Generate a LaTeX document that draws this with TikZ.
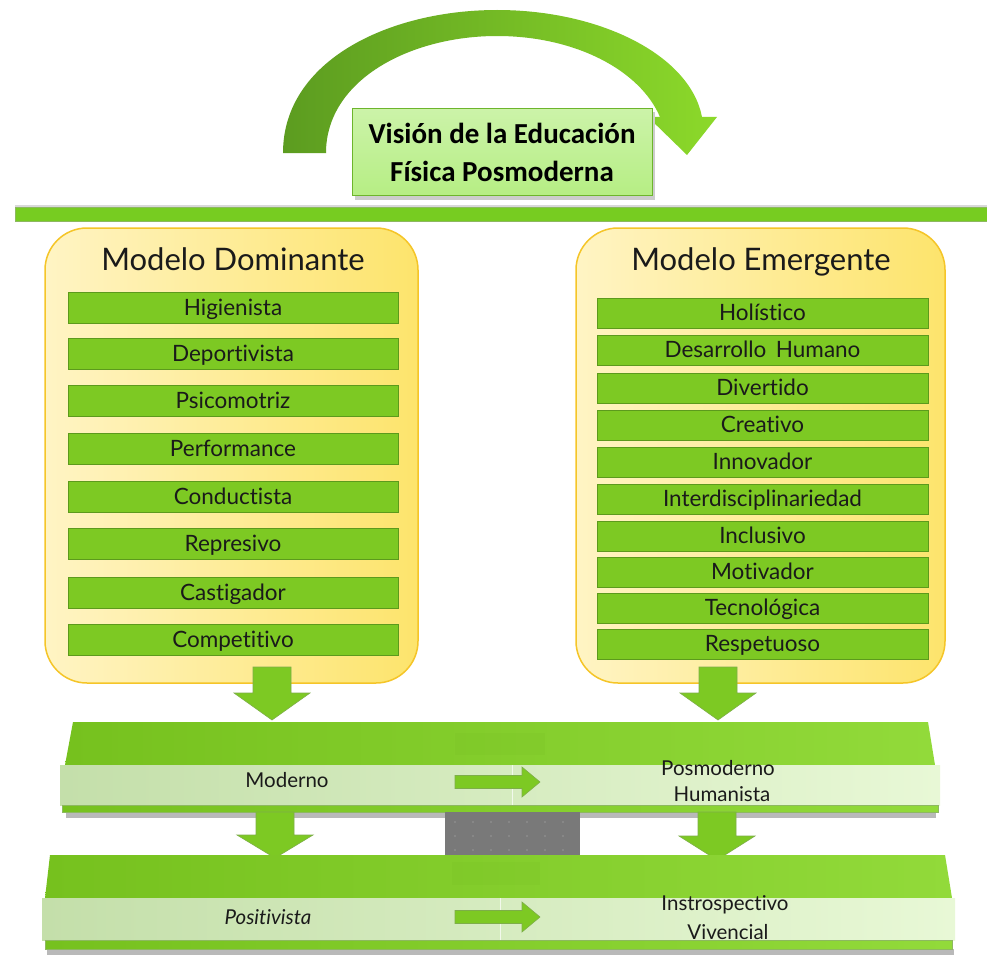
\documentclass[tikz,border=0pt]{standalone}
\usepackage{fontspec}
\setmainfont[Ligatures={NoCommon}]{Lato}
\newfontfamily\titlefont{Carlito}
\definecolor{barg}{HTML}{7DC923}
\definecolor{barborder}{HTML}{5C9A1C}
\definecolor{ylwborder}{HTML}{F5C528}
\definecolor{ylwL}{HTML}{FFF4C4}
\definecolor{ylwR}{HTML}{FDE46C}
\definecolor{arcL}{HTML}{5C9C20}
\definecolor{arcR}{HTML}{8CD92A}
\definecolor{slabL}{HTML}{76C11E}
\definecolor{slabR}{HTML}{92DA3A}
\definecolor{bandL}{HTML}{C4DFAA}
\definecolor{bandR}{HTML}{E8F8D6}
\definecolor{ttlfill}{HTML}{B6EE84}
\definecolor{ttlborder}{HTML}{6DB52C}
\definecolor{txt}{HTML}{1A1A1A}
\tikzset{
  barL/.style={draw=barborder, line width=1pt, fill=barg, minimum width=330, minimum height=31, inner sep=0pt, text=txt, text height=16pt, text depth=1pt, font=\fontsize{22.5}{26}\selectfont},
  barR/.style={barL, minimum width=331, minimum height=30},
  ybox/.style={draw=ylwborder, line width=1.5pt, left color=ylwL, right color=ylwR, rounded corners=42, minimum width=373, minimum height=455, inner sep=0pt},
  ytitle/.style={font=\fontsize{31}{36}\selectfont, text=txt, text height=22pt, text depth=1pt},
  blockarrow/.style={fill=barg, draw=barborder!80, line width=0.6pt},
  paneltext/.style={font=\fontsize{20.5}{24}\selectfont, text=txt, text height=14.8pt, text depth=1pt},
}
\newcommand{\dnblk}[4]{% cx, top, headstart, tip
  \draw[blockarrow] (#1-19,#2) -- (#1+19,#2) -- (#1+19,#3) -- (#1+38,#3) -- (#1,#4) -- (#1-38,#3) -- (#1-19,#3) -- cycle;}
\newcommand{\rtblk}[2]{% left x, center y
  \draw[blockarrow] (#1,#2-6.5) -- (#1+67,#2-6.5) -- (#1+67,#2-15) -- (#1+85,#2) -- (#1+67,#2+15) -- (#1+67,#2+6.5) -- (#1,#2+6.5) -- cycle;}
\begin{document}
\begin{tikzpicture}[x=1pt,y=-1pt]
\useasboundingbox (0,0) rectangle (987,955);
\fill[white] (0,0) rectangle (987,955);

% curved arrow
\path[left color=arcL, right color=arcR]
  (283,153) .. controls (283,60) and (390,10) .. (497,10)
  .. controls (600,10) and (690,55) .. (702,117)
  -- (717,117) -- (687,155) -- (648,117) -- (660,117)
  .. controls (640,70) and (575,36) .. (497,36)
  .. controls (410,36) and (326,80) .. (326,153) -- cycle;

% title box
\fill[gray!40] (355,112) rectangle (655,200);
\node[draw=ttlborder, line width=1pt, top color=ttlfill!70, bottom color=ttlfill, minimum width=300, minimum height=87, inner sep=0pt, align=center, text=black, font=\titlefont\bfseries\fontsize{29}{38}\selectfont] (title) at (502,152) {Visión de la Educación\\Física Posmoderna};

% horizontal bar
\fill[gray!30] (15,205) rectangle (987,207);
\draw[fill=barg!95!green, draw=barborder!70] (15,207) rectangle (990,221);

% yellow boxes
\node[ybox] (dom) at (231.5,455.5) {};
\node[ybox, minimum width=369] (eme) at (760.5,455.5) {};
\node[ytitle] (domt) at (233,260) {Modelo Dominante};
\node[ytitle] (emet) at (761,260) {Modelo Emergente};

% left bars
\node[barL] (d1) at (233,308) {Higienista};
\node[barL] (d2) at (233,354) {Deportivista};
\node[barL] (d3) at (233,401) {Psicomotriz};
\node[barL] (d4) at (233,449) {Performance};
\node[barL] (d5) at (233,497) {Conductista};
\node[barL] (d6) at (233,544) {Represivo};
\node[barL] (d7) at (233,593) {Castigador};
\node[barL] (d8) at (233,640) {Competitivo};

% right bars
\node[barR] (e1) at (762.5,313) {Holístico};
\node[barR] (e2) at (762.5,350) {Desarrollo\, Humano};
\node[barR] (e3) at (762.5,388) {Divertido};
\node[barR] (e4) at (762.5,425) {Creativo};
\node[barR] (e5) at (762.5,462) {Innovador};
\node[barR] (e6) at (762.5,499) {Interdisciplinariedad};
\node[barR] (e7) at (762.5,536) {Inclusivo};
\node[barR] (e8) at (762.5,572) {Motivador};
\node[barR] (e9) at (762.5,608) {Tecnológica};
\node[barR] (e10) at (762.5,644) {Respetuoso};

% upper down arrows
\dnblk{272}{667}{693}{720}
\dnblk{718}{667}{693}{720}

% upper panel
\fill[gray!55] (66,811) rectangle (936,818);
\path[left color=slabL, right color=slabR] (73,722) -- (928,722) -- (935,765) -- (65,765) -- cycle;
\fill[slabL!92!black, opacity=0.1] (455,733) rectangle (545,755);
\path[left color=bandL, right color=bandR] (60,765) rectangle (940,805);
\draw[white, opacity=0.7, line width=1pt] (512,765) -- (512,805);
\path[left color=slabL, right color=slabR, draw=barborder!70] (62,805) rectangle (938,812);
\node[paneltext] (mod) at (287,781) {Moderno};
\node[paneltext] (posm) at (718,769) {Posmoderno};
\node[paneltext] (hum) at (722,795) {Humanista};
\rtblk{455}{782}

% gray block
\fill[gray!60!black!75] (445,812) rectangle (580,855);
\foreach \i in {0,...,6} \foreach \j in {0,...,2}
  \fill[gray!55] (455+18*\i,822+14*\j) circle (0.7);

% middle down arrows
\dnblk{275}{812}{835}{858}
\dnblk{717}{812}{836}{860}

% lower panel
\fill[gray!55] (47,949) rectangle (954,955);
\path[left color=slabL, right color=slabR] (50,855) -- (945,855) -- (952,898) -- (45,898) -- cycle;
\fill[slabL!92!black, opacity=0.1] (452,862) rectangle (540,885);
\path[left color=bandL, right color=bandR] (42,898) rectangle (955,940);
\draw[white, opacity=0.7, line width=1pt] (500,898) -- (500,940);
\path[left color=slabL, right color=slabR, draw=barborder!70] (45,940) rectangle (952,949);
\node[paneltext, font=\itshape\fontsize{20.5}{24}\selectfont] (pos) at (268,918) {Positivista};
\node[paneltext] (ins) at (725,904) {Instrospectivo};
\node[paneltext] (viv) at (728,933) {Vivencial};
\rtblk{455}{917}
\end{tikzpicture}
\end{document}
